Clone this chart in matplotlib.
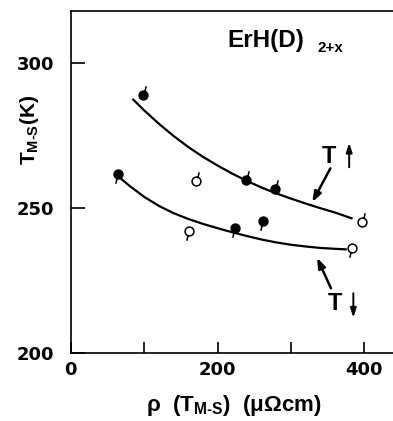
import numpy as np
import matplotlib
matplotlib.use("Agg")
import matplotlib.pyplot as plt
from matplotlib.path import Path

plt.rcParams['font.family'] = ['Liberation Sans', 'DejaVu Sans']
plt.rcParams['font.weight'] = 'bold'
plt.rcParams['mathtext.fontset'] = 'custom'
plt.rcParams['mathtext.rm'] = 'Liberation Sans:bold'
plt.rcParams['mathtext.it'] = 'Liberation Sans:bold'
plt.rcParams['mathtext.bf'] = 'Liberation Sans:bold'

# data: heating (tail up) and cooling (tail down), filled / open
up_filled_x = [98, 238.5, 278]
up_filled_y = [289, 259.5, 256.4]
up_open_x = [171, 396.5]
up_open_y = [259.2, 245.0]
down_filled_x = [64, 223.5, 262.5]
down_filled_y = [261.8, 243.1, 245.5]
down_open_x = [161, 383]
down_open_y = [242.1, 236.2]

# fitted curves
curve_up_x = [84, 100, 120, 140, 160, 180, 200, 220, 240, 260, 280, 300, 320, 340, 360, 384]
curve_up_y = [287.6, 283.6, 279.0, 274.8, 271.0, 267.6, 264.6, 261.8, 259.3, 257.0, 255.0,
              253.2, 251.5, 249.9, 248.4, 246.3]
curve_dn_x = [64, 80, 100, 120, 140, 160, 180, 200, 220, 240, 260, 280, 300, 320, 340, 360, 376]
curve_dn_y = [261.0, 257.6, 253.8, 250.7, 248.2, 246.2, 244.5, 243.0, 241.6, 240.3, 239.1,
              238.1, 237.3, 236.7, 236.2, 235.9, 235.7]

xticks = [0, 100, 200, 300, 400]
xticklabels = ['0', '', '200', '', '400']
yticks = [200, 250, 300]

fig = plt.figure(figsize=(3.93, 4.21), dpi=100)
ax = fig.add_axes([0.18, 0.1615, 0.82, 0.8135])
ax.set_xlim(2, 439)
ax.set_ylim(200, 318)

ax.plot(curve_up_x, curve_up_y, color='black', lw=1.6, solid_capstyle='butt')
ax.plot(curve_dn_x, curve_dn_y, color='black', lw=1.6, solid_capstyle='butt')

circle = Path.unit_circle()
L = 2.2
tail_up = Path([(0.35, 0.94), (0.6, 2.1)], [Path.MOVETO, Path.LINETO])
tail_dn = Path([(-0.35, -0.94), (-0.6, -2.1)], [Path.MOVETO, Path.LINETO])
pad_box = Path([(-L, -L), (L, L)], [Path.MOVETO, Path.MOVETO])
m_up = Path.make_compound_path(circle, tail_up, pad_box)
m_dn = Path.make_compound_path(circle, tail_dn, pad_box)

ms = 14
ax.plot(up_filled_x, up_filled_y, ls='none', marker=m_up, ms=ms, mfc='black', mec='black', mew=1.1)
ax.plot(up_open_x, up_open_y, ls='none', marker=m_up, ms=ms, mfc='white', mec='black', mew=1.1)
ax.plot(down_filled_x, down_filled_y, ls='none', marker=m_dn, ms=ms, mfc='black', mec='black', mew=1.1)
ax.plot(down_open_x, down_open_y, ls='none', marker=m_dn, ms=ms, mfc='white', mec='black', mew=1.1)

# annotations
ax.text(214, 305.3, 'ErH(D)', fontsize=17.5, fontweight='bold', ha='left', va='baseline')
ax.text(336, 303.6, '2+x', fontsize=11, fontweight='bold', ha='left', va='baseline')
ax.text(351.5, 267.6, 'T', fontsize=17, fontweight='bold', ha='center', va='center')
ax.annotate('', xy=(379.3, 272.4), xytext=(379.3, 264),
            arrowprops=dict(arrowstyle='-|>,head_length=0.55,head_width=0.18', color='black', lw=1.4,
                            shrinkA=0, shrinkB=0))
ax.annotate('', xy=(329.1, 252.0), xytext=(353.6, 263.6),
            arrowprops=dict(arrowstyle='-|>,head_length=0.6,head_width=0.22', color='black', lw=1.8,
                            shrinkA=0, shrinkB=0))
ax.text(359.7, 217.0, 'T', fontsize=17, fontweight='bold', ha='center', va='center')
ax.annotate('', xy=(385, 212.2), xytext=(385, 220.6),
            arrowprops=dict(arrowstyle='-|>,head_length=0.55,head_width=0.18', color='black', lw=1.4,
                            shrinkA=0, shrinkB=0))
ax.annotate('', xy=(335.6, 232.8), xytext=(354.5, 222.3),
            arrowprops=dict(arrowstyle='-|>,head_length=0.6,head_width=0.22', color='black', lw=1.8,
                            shrinkA=0, shrinkB=0))

ax.set_xticks(xticks)
ax.set_xticklabels(xticklabels)
ax.set_yticks(yticks)
ax.tick_params(direction='in', width=1.2, labelsize=13)
ax.tick_params(axis='y', pad=12, length=10)
ax.tick_params(axis='x', pad=6, length=8)
for lbl in ax.get_xticklabels() + ax.get_yticklabels():
    lbl.set_fontweight('bold')
    lbl.set_fontfamily('DejaVu Sans')
ax.spines['right'].set_visible(False)
for s in ['left', 'top', 'bottom']:
    ax.spines[s].set_linewidth(1.2)

ax.set_ylabel(r'T$_{\rm M\text{-}S}$(K)', fontsize=15, fontweight='bold')
ax.yaxis.set_label_coords(-0.092, 0.651)
ax.set_xlabel(r'ρ  (T$_{\rm M\text{-}S}$)  (μΩcm)', fontsize=16, fontweight='bold')
ax.xaxis.set_label_coords(0.505, -0.118)

fig.savefig('out.png', dpi=100)
